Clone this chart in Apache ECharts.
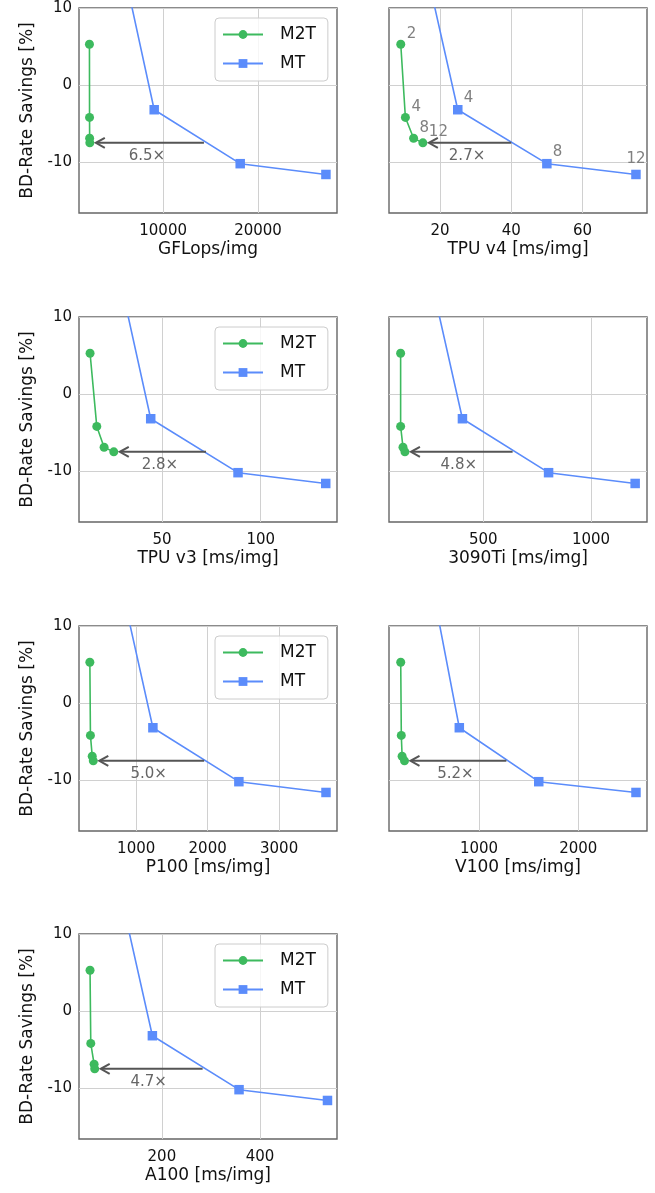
<!DOCTYPE html>
<html>
<head>
<meta charset="utf-8">
<script src="https://cdn.jsdelivr.net/npm/echarts@6/dist/echarts.min.js"></script>
<style>
html,body{margin:0;padding:0;background:#fff;}
#chart{width:655px;height:1193px;}
</style>
</head>
<body>
<div id="chart"></div>
<script>
// ---------------- data ----------------
const iterations = [2, 4, 8, 12];
const m2tY = [5.3, -4.2, -6.9, -7.5];          // BD-rate savings [%] of M2T
const mtY  = [22.5, -3.2, -10.2, -11.6];       // BD-rate savings [%] of MT (first point off-chart)

const axisNames = ['GFLops/img', 'TPU v4 [ms/img]', 'TPU v3 [ms/img]', '3090Ti [ms/img]',
                   'P100 [ms/img]', 'V100 [ms/img]', 'A100 [ms/img]'];

const gflopsM2T = [2240, 2250, 2260, 2280];
const gflopsMT  = [4530, 9060, 18120, 27150];
const tpuv4M2T  = [9.0, 10.3, 12.6, 15.2];
const tpuv4MT   = [12.5, 25, 50, 75];
const tpuv3M2T  = [13.6, 17.0, 20.7, 25.6];
const tpuv3MT   = [22.2, 44.3, 88.5, 132.9];
const rtx3090M2T = [116, 116, 127, 136];
const rtx3090MT  = [196, 403, 803, 1205];
const p100M2T   = [352, 360, 385, 400];
const p100MT    = [617, 1234, 2437, 3656];
const v100M2T   = [212, 218, 226, 250];
const v100MT    = [420, 802, 1602, 2581];
const a100M2T   = [53.5, 55, 61.8, 63];
const a100MT    = [90, 180.6, 357.3, 537.6];

const m2tX = [gflopsM2T, tpuv4M2T, tpuv3M2T, rtx3090M2T, p100M2T, v100M2T, a100M2T];
const mtX  = [gflopsMT, tpuv4MT, tpuv3MT, rtx3090MT, p100MT, v100MT, a100MT];

const arrowTailX = [14300, 40, 72.3, 636, 1951, 1276, 283];
const speedups   = ['6.5×', '2.7×', '2.8×', '4.8×', '5.0×', '5.2×', '4.7×'];

const xMins = [1140, 5.7, 8, 62, 200, 94, 31];
const xMaxs = [28316, 78.1, 138.6, 1260, 3810, 2692, 557];
const xTicks = [[10000, 20000], [20, 40, 60], [50, 100], [500, 1000],
                [1000, 2000, 3000], [1000, 2000], [200, 400]];
const yTicks = [-10, 0, 10];
const yMin = -16.6, yMax = 10;

// ---------------- layout ----------------
const FONT = 'DejaVu Sans';
const GREEN = '#3dba5e';
const BLUE = '#5b8cfb';
const colLeft = [79, 389];
const rowTop = [8, 317, 626, 934];
const plotW = 258, plotH = 205;

const grids = [], xAxes = [], yAxes = [], series = [], legends = [];

axisNames.forEach((nm, i) => {
  const col = i % 2, row = Math.floor(i / 2);
  grids.push({
    left: colLeft[col], top: rowTop[row], width: plotW, height: plotH,
    show: true, borderColor: '#666', borderWidth: 1.4, backgroundColor: 'transparent',
    containLabel: false
  });
  xAxes.push({
    type: 'value', gridIndex: i, min: xMins[i], max: xMaxs[i],
    name: nm, nameLocation: 'middle', nameGap: 28,
    nameTextStyle: { fontFamily: FONT, fontSize: 17, color: '#111' },
    axisLine: { show: false }, axisTick: { show: false, customValues: xTicks[i] },
    axisLabel: { customValues: xTicks[i], fontFamily: FONT, fontSize: 15, color: '#111', margin: 11,
                 formatter: v => String(v) },
    splitLine: { show: true, lineStyle: { color: '#d0d0d0', width: 1 } }
  });
  yAxes.push({
    type: 'value', gridIndex: i, min: yMin, max: yMax,
    name: col === 0 ? 'BD-Rate Savings [%]' : '', nameLocation: 'middle', nameGap: 43,
    nameTextStyle: { fontFamily: FONT, fontSize: 17, color: '#111' },
    axisLine: { show: false }, axisTick: { show: false, customValues: yTicks },
    axisLabel: { show: col === 0, customValues: yTicks, fontFamily: FONT, fontSize: 15, color: '#111', margin: 7,
                 formatter: v => String(v) },
    splitLine: { show: true, lineStyle: { color: '#d0d0d0', width: 1 } }
  });

  const showLabels = (i === 1);
  series.push({
    name: 'M2T', type: 'line', xAxisIndex: i, yAxisIndex: i,
    data: m2tX[i].map((x, k) => [x, m2tY[k]]),
    symbol: 'circle', symbolSize: 9,
    lineStyle: { color: GREEN, width: 1.6 }, itemStyle: { color: GREEN },
    label: {
      show: showLabels, formatter: p => String(iterations[p.dataIndex]),
      position: [10.5, 1.5], align: 'left', verticalAlign: 'bottom',
      fontFamily: FONT, fontSize: 15, color: '#808080'
    },
    emphasis: { disabled: true }, animation: false, z: 3
  });
  series.push({
    name: 'MT', type: 'line', xAxisIndex: i, yAxisIndex: i,
    data: mtX[i].map((x, k) => {
      const item = { value: [x, mtY[k]] };
      if (k === iterations.length - 1) {
        item.label = { position: 'top', distance: 3, align: 'center', verticalAlign: 'bottom' };
      }
      return item;
    }),
    symbol: 'rect', symbolSize: 9.5,
    lineStyle: { color: BLUE, width: 1.6 }, itemStyle: { color: BLUE },
    label: {
      show: showLabels, formatter: p => p.dataIndex === 0 ? '' : String(iterations[p.dataIndex]),
      position: [10.75, 0.75], align: 'left', verticalAlign: 'bottom',
      fontFamily: FONT, fontSize: 15, color: '#808080'
    },
    emphasis: { disabled: true }, animation: false, z: 4
  });
  const lastIdx = iterations.length - 1;
  series.push({
    type: 'custom', xAxisIndex: i, yAxisIndex: i, silent: true, animation: false, z: 5,
    data: [[arrowTailX[i], m2tY[lastIdx], m2tX[i][lastIdx]]],
    renderItem: (params, api) => {
      const y = api.value(1);
      const tail = api.coord([api.value(0), y]);
      const pt = api.coord([api.value(2), y]);
      const tipX = pt[0] + 6, yy = tail[1];
      return {
        type: 'group', children: [
          { type: 'line', shape: { x1: tail[0], y1: yy, x2: tipX + 1, y2: yy },
            style: { stroke: '#555', lineWidth: 2 } },
          { type: 'polyline', shape: { points: [[tipX + 9, yy - 5], [tipX, yy], [tipX + 9, yy + 5]] },
            style: { stroke: '#555', lineWidth: 2, fill: null } },
          { type: 'text', x: (tail[0] + pt[0]) / 2, y: yy + 13,
            style: { text: speedups[i], fill: '#666', font: '15px "DejaVu Sans"', align: 'center', verticalAlign: 'middle' } }
        ]
      };
    }
  });

  if (col === 0) {
    legends.push({
      left: colLeft[col] + 136, top: rowTop[row] + 10,
      orient: 'vertical', data: ['M2T', 'MT'],
      itemWidth: 40, itemHeight: 11, itemGap: 12,
      padding: [8, 12, 9, 7],
      borderColor: '#cccccc', borderWidth: 1, borderRadius: 4,
      backgroundColor: 'rgba(255,255,255,0.8)',
      textStyle: { fontFamily: FONT, fontSize: 17, color: '#111', padding: [0, 0, 0, 12] },
      selectedMode: false
    });
  }
});

const chart = echarts.init(document.getElementById('chart'), null, { renderer: 'canvas' });
chart.setOption({
  animation: false,
  backgroundColor: '#fff',
  grid: grids, xAxis: xAxes, yAxis: yAxes, series: series, legend: legends
});
</script>
</body>
</html>
